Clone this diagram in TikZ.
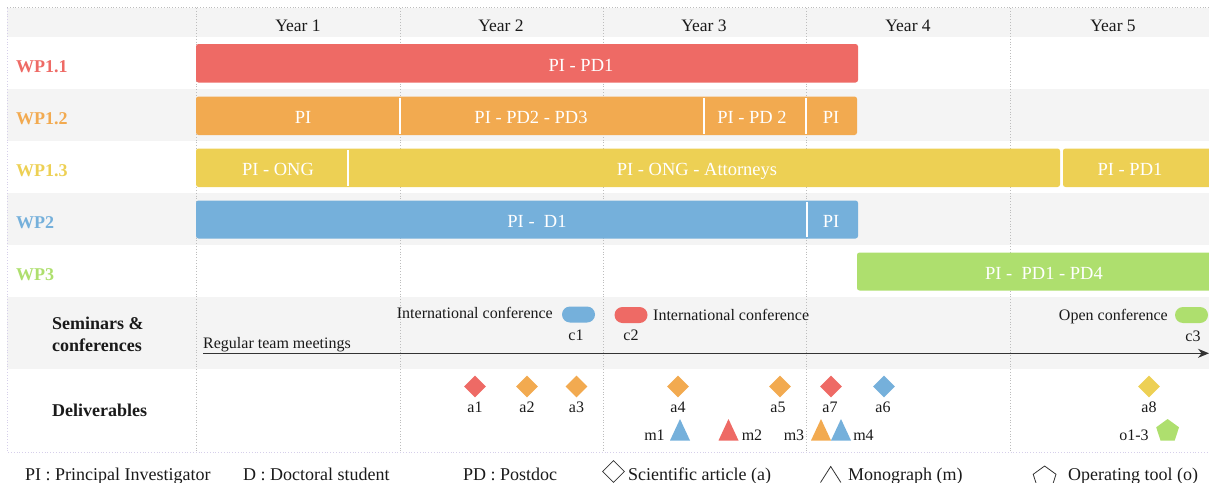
\documentclass[tikz,border=0pt]{standalone}
\usepackage{fontspec}
\setmainfont{Liberation Serif}
\usetikzlibrary{arrows.meta,shapes.geometric}
\definecolor{cred}{HTML}{EE6A65}
\definecolor{corange}{HTML}{F2AA50}
\definecolor{cyellow}{HTML}{EDD054}
\definecolor{cblue}{HTML}{75B0DB}
\definecolor{cgreen}{HTML}{AEDF6E}
\definecolor{rowgray}{HTML}{F4F4F4}
\definecolor{txt}{HTML}{1A1A1A}
\definecolor{gridgray}{HTML}{BDBDBD}
\definecolor{framecol}{HTML}{D6CFEA}
\definecolor{arrowcol}{HTML}{333333}
\tikzset{
  bar/.style={rounded corners=2.5pt},
  bartext/.style={text=white, font=\fontsize{18.5}{20}\selectfont, anchor=base, inner sep=0pt},
  wplabel/.style={font=\bfseries\fontsize{18}{20}\selectfont, anchor=base west, inner sep=0pt},
  yearlabel/.style={text=txt, font=\fontsize{17.5}{20}\selectfont, anchor=base, inner sep=0pt},
  smalltext/.style={text=txt, font=\fontsize{16}{18}\selectfont, inner sep=0pt},
  legendtext/.style={text=txt, font=\fontsize{18}{20}\selectfont, anchor=base west, inner sep=0pt},
  divider/.style={white, line width=1.5pt},
  gridline/.style={gridgray, dotted, line width=0.8pt},
  frameline/.style={framecol, dotted, line width=0.8pt},
  dia/.style={diamond, minimum width=22pt, minimum height=22pt, inner sep=0pt},
  pill/.style={rounded corners=8pt, minimum width=33pt, minimum height=16pt, inner sep=0pt},
  pent/.style={regular polygon, regular polygon sides=5, minimum size=24pt, inner sep=0pt},
  legshape/.style={draw=arrowcol, line width=0.8pt},
  arrowline/.style={arrowcol, line width=1.5pt, -{Stealth[length=11pt,width=9pt]}},
}
\newcommand{\mytri}[3]{\fill[#2] ({#1},419) -- ({#1+10},440.5) -- ({#1-10},440.5) -- cycle; \coordinate (#3) at ({#1},431);}
\begin{document}
\begin{tikzpicture}[x=1pt,y=-1pt]
\useasboundingbox (0,0) rectangle (1209,482);
\begin{scope}
\clip (0,0) rectangle (1209,482);
% row backgrounds
\fill[rowgray] (7,8) rectangle (1209,37);
\fill[rowgray] (7,89) rectangle (1209,141);
\fill[rowgray] (7,193) rectangle (1209,245);
\fill[rowgray] (7,297) rectangle (1209,369);
% grid
\foreach \gx in {196,400,603,806,1010} \draw[gridline] (\gx,8) -- (\gx,452);
\draw[gridgray, dotted, line width=0.8pt] (7,7.5) -- (1209,7.5);
\draw[frameline] (7,8) -- (7,452) -- (1209,452);
% header
\node[yearlabel] (y1) at (298,31) {Year 1};
\node[yearlabel] (y2) at (501,31) {Year 2};
\node[yearlabel] (y3) at (704,31) {Year 3};
\node[yearlabel] (y4) at (908,31) {Year 4};
\node[yearlabel] (y5) at (1113,31) {Year 5};
% WP labels
\node[wplabel, text=cred] (w11) at (16,72) {WP1.1};
\node[wplabel, text=corange] (w12) at (16,124) {WP1.2};
\node[wplabel, text=cyellow] (w13) at (16,176) {WP1.3};
\node[wplabel, text=cblue] (w2) at (16,228) {WP2};
\node[wplabel, text=cgreen] (w3) at (16,280) {WP3};
% WP1.1
\fill[cred, bar] (196,44) rectangle (858,82.5);
\node[bartext] (t11) at (581,71) {PI - PD1};
% WP1.2
\fill[corange, bar] (196,96.5) rectangle (857,135);
\draw[divider] (400,98) -- (400,133.5);
\draw[divider] (704,98) -- (704,133.5);
\draw[divider] (806,98) -- (806,133.5);
\node[bartext] (t12a) at (303,123) {PI};
\node[bartext] (t12b) at (531,123) {PI - PD2 - PD3};
\node[bartext] (t12c) at (752,123) {PI - PD 2};
\node[bartext] (t12d) at (831,123) {PI};
% WP1.3
\fill[cyellow, bar] (196,148.5) rectangle (1060,187);
\fill[cyellow, bar] (1063,148.5) rectangle (1218,187);
\draw[divider] (348,150) -- (348,185.5);
\node[bartext] (t13a) at (278,175) {PI - ONG};
\node[bartext] (t13b) at (697,175) {PI - ONG - Attorneys};
\node[bartext] (t13c) at (1130,175) {PI - PD1};
% WP2
\fill[cblue, bar] (196,200.5) rectangle (858,238.5);
\draw[divider] (807,202) -- (807,237);
\node[bartext] (t2a) at (537,227) {PI -\ \ D1};
\node[bartext] (t2b) at (831,227) {PI};
% WP3
\fill[cgreen, bar] (857,252.5) rectangle (1218,290.5);
\node[bartext] (t3) at (1044,279) {PI -\ \ PD1 - PD4};
% Seminars & conferences
\node[wplabel, text=txt] (sem) at (52,329.3) {Seminars \&};
\node[wplabel, text=txt] (conf) at (52,351.7) {conferences};
\node[smalltext, anchor=base west] (rtm) at (203,348.3) {Regular team meetings};
\coordinate (arrS) at (203,353.3);
\coordinate (arrE) at (1209,353.3);
\draw[arrowline] (arrS) -- (arrE);
\node[pill, fill=cblue] (c1p) at (578.5,314.5) {};
\node[smalltext, anchor=base east] (ic1) at (553,318.3) {International conference};
\node[smalltext, anchor=base] (c1) at (576,340) {c1};
\node[pill, fill=cred] (c2p) at (631,315) {};
\node[smalltext, anchor=base west] (ic2) at (653,320) {International conference};
\node[smalltext, anchor=base] (c2) at (631,340) {c2};
\node[pill, fill=cgreen] (c3p) at (1191.5,315) {};
\node[smalltext, anchor=base east] (oc) at (1168,320) {Open conference};
\node[smalltext, anchor=base] (c3) at (1193,341.7) {c3};
% Deliverables
\node[wplabel, text=txt] (del) at (52,416.7) {Deliverables};
\node[dia, fill=cred] (d1) at (475,386.5) {};
\node[dia, fill=corange] (d2) at (527,386.5) {};
\node[dia, fill=corange] (d3) at (576.5,386.5) {};
\node[dia, fill=corange] (d4) at (678,386.5) {};
\node[dia, fill=corange] (d5) at (780,386.5) {};
\node[dia, fill=cred] (d7) at (831,386.5) {};
\node[dia, fill=cblue] (d6) at (884,386.5) {};
\node[dia, fill=cyellow] (d8) at (1149,386.5) {};
\node[smalltext, anchor=base] (la1) at (475,412) {a1};
\node[smalltext, anchor=base] (la2) at (527,412) {a2};
\node[smalltext, anchor=base] (la3) at (576.5,412) {a3};
\node[smalltext, anchor=base] (la4) at (678,412) {a4};
\node[smalltext, anchor=base] (la5) at (778,412) {a5};
\node[smalltext, anchor=base] (la7) at (830,412) {a7};
\node[smalltext, anchor=base] (la6) at (883,412) {a6};
\node[smalltext, anchor=base] (la8) at (1149,412) {a8};
\mytri{680}{cblue}{m1t}
\mytri{728.5}{cred}{m2t}
\mytri{821}{corange}{m3t}
\mytri{841}{cblue}{m4t}
\node[smalltext, anchor=base] (lm1) at (654.5,440) {m1};
\node[smalltext, anchor=base] (lm2) at (752,440) {m2};
\node[smalltext, anchor=base] (lm3) at (794,440) {m3};
\node[smalltext, anchor=base] (lm4) at (863.5,440) {m4};
\node[pent, fill=cgreen] (o13) at (1167.6,431) {};
\node[smalltext, anchor=base] (lo13) at (1134,440) {o1-3};
% Legend
\node[legendtext] (lg1) at (25,480) {PI : Principal Investigator};
\node[legendtext] (lg2) at (243,480) {D : Doctoral student};
\node[legendtext] (lg3) at (463,480) {PD : Postdoc};
\node[dia, legshape] (lgd) at (613.5,471.5) {};
\node[legendtext] (lg4) at (628,480) {Scientific article (a)};
\coordinate (lt1) at (820.5,482.5);
\coordinate (lt2) at (830.7,466.5);
\coordinate (lt3) at (840.9,482.5);
\draw[arrowcol, line width=0.8pt] (lt1) -- (lt2) -- (lt3);
\node[legendtext] (lg5) at (848,480) {Monograph (m)};
\node[pent, legshape] (lgp) at (1044.6,478) {};
\node[legendtext] (lg6) at (1068,480) {Operating tool (o)};
\end{scope}
\end{tikzpicture}
\end{document}
